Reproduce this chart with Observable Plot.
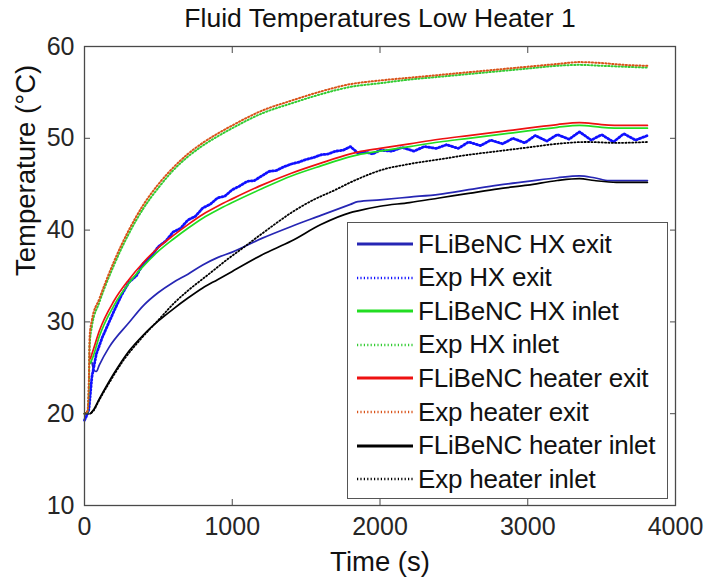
<!DOCTYPE html>
<html><head><meta charset="utf-8">
<script src="https://cdn.jsdelivr.net/npm/d3@7"></script>
<script src="https://cdn.jsdelivr.net/npm/@observablehq/plot@0.6"></script>
<style>
body{margin:0;background:#fff;}
#wrap{position:relative;width:711px;height:579px;font-family:"Liberation Sans",Arial,sans-serif;}
#legend{position:absolute;left:347px;top:222px;width:321px;height:277px;border:1.3px solid #555;background:#fff;box-sizing:border-box;}
.row{position:absolute;left:0;height:34px;display:flex;align-items:center;font-size:26px;color:#111;white-space:nowrap;letter-spacing:-0.2px;}
.row svg{margin-left:9px;margin-right:5px;}
</style></head>
<body><div id="wrap"><div id="chart"></div><div id="legend"></div></div>
<script>
const title = "Fluid Temperatures Low Heater 1";
const xLabel = "Time (s)";
const yLabel = "Temperature (°C)";
const xTicks = [0, 1000, 2000, 3000, 4000];
const yTicks = [10, 20, 30, 40, 50, 60];
const seriesNames = ["FLiBeNC HX exit","Exp HX exit","FLiBeNC HX inlet","Exp HX inlet","FLiBeNC heater exit","Exp heater exit","FLiBeNC heater inlet","Exp heater inlet"];

// FLiBeNC HX exit (solid blue)
const tSimHxExit = [50,65,80,100,165,300,400,500,600,700,800,900,1000,1200,1400,1600,1800,1850,2000,2200,2400,2600,2800,3000,3200,3350,3450,3550,3810];
const vSimHxExit = [25.6,24.7,24.6,25.3,27.2,29.9,31.8,33.2,34.3,35.2,36.2,37.0,37.6,39.1,40.4,41.6,42.8,43.1,43.3,43.6,43.9,44.4,44.9,45.3,45.7,45.9,45.7,45.4,45.4];
// Exp HX exit (blue dotted, noisy)
const tExpHxExit = [0,15,30,50,80,120,200,250,300,350,400,450,500,550,600,650,700,750,800,850,900,950,1000,1050,1100,1150,1200,1250,1300,1350,1400,1450,1500,1550,1600,1650,1700,1750,1800,1850,1900,1950,2000,2080,2150,2230,2300,2380,2450,2530,2600,2680,2750,2830,2900,2980,3050,3130,3200,3280,3350,3430,3500,3580,3650,3730,3810];
const vExpHxExit = [19.3,19.8,20.5,24.0,26.5,28.3,31.2,32.9,34.3,35.0,36.4,37.1,38.2,38.8,39.8,40.2,41.1,41.5,42.4,42.8,43.5,43.7,44.4,44.8,45.3,45.4,45.9,46.4,46.5,46.9,47.2,47.4,47.7,47.9,48.2,48.3,48.6,48.7,49.1,48.4,48.5,48.3,48.7,48.6,49.0,48.6,49.1,48.9,49.3,48.9,49.6,49.2,49.8,49.4,50.0,49.5,50.3,49.7,50.4,49.9,50.7,49.8,50.4,49.6,50.5,49.8,50.3];
// FLiBeNC HX inlet (solid green)
const tSimHxInlet = [40,60,100,200,300,400,500,600,700,800,900,1000,1200,1400,1600,1800,1850,2000,2200,2400,2600,2800,3000,3200,3350,3500,3650,3810];
const vSimHxInlet = [25.5,26.3,28.4,31.8,34.2,36.1,37.7,39.0,40.2,41.3,42.2,43.0,44.5,45.9,47.0,48.0,48.2,48.6,49.1,49.6,50.0,50.4,50.8,51.2,51.4,51.2,51.1,51.1];
// Exp HX inlet (green dotted)
const tExpHxInlet = [0,20,30,35,50,100,200,300,400,500,600,700,800,900,1000,1200,1400,1600,1800,2000,2200,2400,2600,2800,3000,3200,3350,3500,3650,3810];
const vExpHxInlet = [20.0,20.2,23.0,27.5,29.5,32.1,36.2,39.6,42.4,44.6,46.5,48.0,49.2,50.2,51.1,52.7,53.8,54.8,55.6,56.0,56.4,56.7,57.0,57.3,57.6,57.9,58.0,57.9,57.8,57.7];
// FLiBeNC heater exit (solid red)
const tSimHeaterExit = [40,60,100,200,300,400,500,600,700,800,900,1000,1200,1400,1600,1800,1850,2000,2200,2400,2600,2800,3000,3200,3350,3500,3650,3810];
const vSimHeaterExit = [26.0,27.0,29.0,32.3,34.6,36.5,38.1,39.4,40.6,41.7,42.6,43.4,44.9,46.2,47.3,48.3,48.5,48.9,49.4,49.9,50.3,50.7,51.1,51.5,51.7,51.5,51.4,51.4];
// Exp heater exit (orange dotted)
const tExpHeaterExit = [0,20,30,35,50,100,200,300,400,500,600,700,800,900,1000,1200,1400,1600,1800,2000,2200,2400,2600,2800,3000,3200,3350,3500,3650,3810];
const vExpHeaterExit = [20.0,20.3,24.0,28.5,30.2,32.5,36.6,40.0,42.8,45.0,46.8,48.3,49.5,50.5,51.4,53.0,54.1,55.1,55.9,56.3,56.6,56.9,57.2,57.5,57.8,58.1,58.3,58.2,58.0,57.9];
// FLiBeNC heater inlet (solid black)
const tSimHeaterInlet = [40,60,100,200,300,400,500,600,700,800,900,1000,1200,1400,1600,1800,1850,2000,2200,2400,2600,2800,3000,3200,3350,3450,3600,3810];
const vSimHeaterInlet = [20.0,20.4,21.6,24.4,26.8,28.6,30.1,31.4,32.6,33.7,34.6,35.5,37.3,38.8,40.6,41.9,42.1,42.6,43.0,43.5,44.0,44.5,44.9,45.4,45.6,45.4,45.2,45.2];
// Exp heater inlet (black dotted)
const tExpHeaterInlet = [0,30,60,100,165,250,390,500,616,700,841,950,1067,1200,1293,1400,1550,1700,1800,1900,2000,2200,2400,2600,2800,3000,3200,3400,3600,3810];
const vExpHeaterInlet = [20.0,20.0,20.3,21.5,23.3,25.5,28.3,30.2,32.2,33.4,35.2,36.6,38.0,39.6,40.7,41.9,43.3,44.4,45.2,45.9,46.5,47.2,47.7,48.2,48.6,49.0,49.4,49.6,49.5,49.6];

const colors = ["#2626b4","#1010ff","#22dd22","#33cc33","#ee1111","#d95319","#000000","#000000"];
const dashes = [null,"1.2,2.2",null,"1.2,2.2",null,"1.2,2.2",null,"1.2,2.2"];
const widths = [1.7,2.8,1.7,2,1.7,2,1.7,1.8];
const curves = ["monotone-x","linear","monotone-x","monotone-x","monotone-x","monotone-x","monotone-x","monotone-x"];

const ts = [tSimHxExit,tExpHxExit,tSimHxInlet,tExpHxInlet,tSimHeaterExit,tExpHeaterExit,tSimHeaterInlet,tExpHeaterInlet];
const vs = [vSimHxExit,vExpHxExit,vSimHxInlet,vExpHxInlet,vSimHeaterExit,vExpHeaterExit,vSimHeaterInlet,vExpHeaterInlet];

const lineMarks = seriesNames.map((name, i) => {
  const data = ts[i].map((t, j) => ({t, T: vs[i][j]}));
  return Plot.line(data, {x: "t", y: "T", stroke: colors[i], strokeWidth: widths[i],
    strokeDasharray: dashes[i] || undefined, strokeLinejoin: "round", curve: curves[i]});
});

const axisColor = "#4a4a4a";
const chart = Plot.plot({
  width: 711, height: 579,
  marginLeft: 84, marginRight: 36, marginTop: 46, marginBottom: 74,
  style: {fontFamily: '"Liberation Sans", Arial, sans-serif', background: "#fff", color: "#262626"},
  x: {domain: [0, 4000]},
  y: {domain: [10, 60]},
  marks: [
    ...lineMarks,
    Plot.frame({stroke: axisColor, strokeWidth: 1.3}),
    Plot.axisX({ticks: xTicks, tickSize: -6, tickPadding: 18, fontSize: 25, tickFormat: d => String(d), label: null, stroke: axisColor, fill: "#262626"}),
    Plot.axisX({anchor: "top", ticks: xTicks, tickSize: -6, tickFormat: () => "", label: null, stroke: axisColor}),
    Plot.axisY({ticks: yTicks, tickSize: -6, tickPadding: 16, fontSize: 25, tickFormat: d => String(d), label: null, stroke: axisColor, fill: "#262626"}),
    Plot.axisY({anchor: "right", ticks: yTicks, tickSize: -6, tickFormat: () => "", label: null, stroke: axisColor}),
    Plot.text([title], {frameAnchor: "top", dy: -28, lineAnchor: "middle", fontSize: 26.5, fill: "#111"}),
    Plot.text([xLabel], {frameAnchor: "bottom", dy: 57, lineAnchor: "middle", fontSize: 27.5, fill: "#111"}),
    Plot.text([yLabel], {frameAnchor: "left", dx: -58, rotate: -90, lineAnchor: "middle", fontSize: 27.5, fill: "#111"})
  ]
});
document.getElementById("chart").appendChild(chart);

const legend = document.getElementById("legend");
seriesNames.forEach((name, i) => {
  const row = document.createElement("div");
  row.className = "row";
  row.style.top = (4 + 33.6 * i) + "px";
  const dash = dashes[i] ? `stroke-dasharray="${dashes[i]}"` : "";
  row.innerHTML = `<svg width="56" height="10"><line x1="0" y1="5" x2="56" y2="5" stroke="${colors[i]}" stroke-width="${dashes[i] ? 2.4 : 3}" ${dash}/></svg><span>${name}</span>`;
  legend.appendChild(row);
});
</script></body></html>
